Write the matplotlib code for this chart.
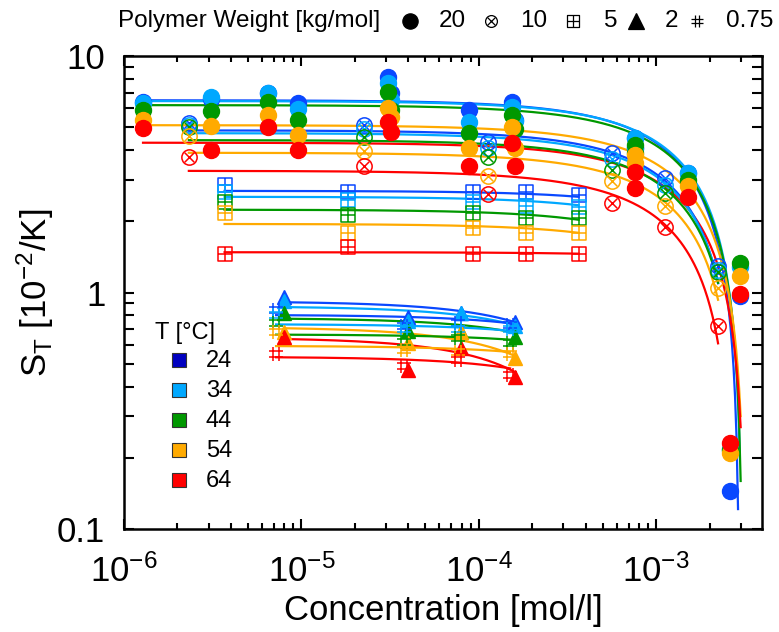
import numpy as np
import matplotlib
matplotlib.use("Agg")
import matplotlib.pyplot as plt
from matplotlib.path import Path
from matplotlib.ticker import LogLocator, FixedLocator, FuncFormatter, NullFormatter

plt.rcParams["font.family"] = ["Liberation Sans", "DejaVu Sans"]
plt.rcParams["mathtext.fontset"] = "custom"
plt.rcParams["mathtext.rm"] = "Liberation Sans"
plt.rcParams["mathtext.it"] = "Liberation Sans:italic"
plt.rcParams["mathtext.default"] = "regular"

temps = [24, 34, 44, 54, 64]
colors = ["#0a48ff", "#00a8ff", "#009800", "#ffaa00", "#ff0000"]
legend_colors = ["#0000c0", "#00a8ff", "#009800", "#ffaa00", "#ff0000"]

# 20 kg/mol, rows follow temps
conc_20 = [1.28e-6, 3.08e-6, 6.44e-6, 9.6e-6, 3.08e-5, 3.2e-5, 8.8e-5, 1.53e-4, 1.6e-4,
           7.6e-4, 7.6e-4, 1.51e-3, 2.96e-3, 2.6e-3]
st_20 = [
    [6.40, 6.60, 6.95, 6.35, 8.15, 6.97, 5.90, 6.40, 5.36, 4.50, 4.10, 3.20, 0.97, 0.145],
    [6.30, 6.70, 6.97, 5.97, 7.69, 6.50, 5.26, 6.10, 5.30, 4.50, 4.10, 3.19, 1.28, 0.218],
    [5.90, 5.85, 6.40, 5.36, 7.04, 5.90, 4.72, 5.62, 4.90, 4.20, 3.90, 2.98, 1.33, 0.215],
    [5.36, 5.06, 5.62, 4.63, 6.02, 5.51, 4.08, 5.00, 4.08, 3.80, 3.52, 2.81, 1.17, 0.210],
    [4.96, 4.00, 5.00, 3.99, 5.25, 4.76, 3.43, 4.28, 3.42, 3.22, 2.76, 2.53, 0.99, 0.231],
]
fit_s0_20 = [6.50, 6.45, 6.20, 5.10, 4.30]
fit_cmax_20 = [2.945e-3, 3.055e-3, 3.069e-3, 3.177e-3, 3.19e-3]
fit_end_20 = [2.89e-3, 2.96e-3, 2.99e-3, 2.99e-3, 2.99e-3]

# 10 kg/mol
conc_10 = [2.32e-6, 2.26e-5, 1.12e-4, 5.66e-4, 1.12e-3, 2.23e-3]
st_10 = [
    [5.20, 5.10, 4.32, 3.88, 3.04, 1.30],
    [5.10, 4.90, 4.08, 3.67, 2.85, 1.25],
    [5.00, 4.54, 3.73, 3.29, 2.63, 1.22],
    [4.60, 3.95, 3.10, 2.96, 2.32, 1.04],
    [3.73, 3.42, 2.60, 2.38, 1.89, 0.72],
]
fit_s0_10 = [4.85, 4.72, 4.41, 3.90, 3.27]
fit_cmax_10 = [2.88e-3, 2.91e-3, 2.97e-3, 2.93e-3, 2.741e-3]

# 5 kg/mol
conc_5 = [3.69e-6, 1.84e-5, 9.25e-5, 1.84e-4, 3.65e-4]
st_5 = [
    [2.84, 2.65, 2.65, 2.65, 2.58],
    [2.65, 2.45, 2.41, 2.33, 2.29],
    [2.41, 2.12, 2.16, 2.06, 2.06],
    [2.16, 1.79, 1.87, 1.78, 1.79],
    [1.45, 1.55, 1.46, 1.46, 1.46],
]
fit_s0_5 = [2.69, 2.54, 2.24, 1.95, 1.48]
fit_cmax_5 = [6.5e-3, 4.6e-3, 3.9e-3, 4.4e-3, 2.6e-2]

# 2 kg/mol
conc_2 = [8.0e-6, 4.0e-5, 7.9e-5, 1.6e-4]
st_2 = [
    [0.96, 0.79, 0.82, 0.75],
    [0.92, 0.76, 0.82, 0.72],
    [0.82, 0.69, 0.68, 0.65],
    [0.68, 0.61, 0.68, 0.53],
    [0.65, 0.47, 0.58, 0.44],
]
fit_s0_2 = [0.918, 0.875, 0.78, 0.715, 0.645]
fit_cmax_2 = [8.7e-4, 9.5e-4, 1.2e-3, 6.5e-4, 5.6e-4]

# 0.75 kg/mol
conc_075 = [7.2e-6, 3.8e-5, 7.6e-5, 1.5e-4]
st_075 = [
    [0.84, 0.72, 0.74, 0.73],
    [0.80, 0.70, 0.70, 0.70],
    [0.74, 0.62, 0.64, 0.61],
    [0.68, 0.57, 0.56, 0.55],
    [0.55, 0.49, 0.52, 0.45],
]
fit_s0_075 = [0.805, 0.735, 0.665, 0.595, 0.535]
fit_cmax_075 = [1.9e-3, 2.4e-3, 3.0e-3, 2.6e-3, 1.4e-3]

# marker shapes
M, L, C = Path.MOVETO, Path.LINETO, Path.CLOSEPOLY
circle_x = Path.make_compound_path(
    Path.unit_circle(),
    Path([(-0.62, -0.62), (0.62, 0.62), (-0.62, 0.62), (0.62, -0.62)], [M, L, M, L]))
box_plus = Path([(-1, -1), (1, -1), (1, 1), (-1, 1), (-1, -1), (0, -1), (0, 1), (-1, 0), (1, 0)],
                [M, L, L, L, C, M, L, M, L])
hash_mark = Path([(-0.38, -1), (-0.38, 1), (0.38, -1), (0.38, 1),
                  (-1, -0.38), (1, -0.38), (-1, 0.38), (1, 0.38)], [M, L] * 4)

W, H = 779, 632
fig = plt.figure(figsize=(W / 100, H / 100), dpi=100)
ax = fig.add_axes([124 / W, 1 - 529 / H, (762 - 124) / W, (529 - 56) / H])


def fit_curve(s0, cmax, c0, c1):
    c = np.logspace(np.log10(c0), np.log10(c1), 400)
    return c, s0 * (1 - c / cmax)


def draw_set(conc, st, s0s, cmaxs, ends, marker, ms, filled, mew=1.1):
    for i, col in enumerate(colors):
        end = ends[i] if np.ndim(ends) else ends
        cx, cy = fit_curve(s0s[i], cmaxs[i], min(conc), end)
        ax.plot(cx, cy, color=col, lw=1.6, zorder=2)
    for i, col in enumerate(colors):
        if filled:
            ax.plot(conc, st[i], ls="none", marker=marker, ms=ms, mfc=col, mec=col, zorder=3)
        else:
            ax.plot(conc, st[i], ls="none", marker=marker, ms=ms, mfc="none", mec=col,
                    mew=mew, zorder=3)


draw_set(conc_20, st_20, fit_s0_20, fit_cmax_20, fit_end_20, "o", 11.5, True)
draw_set(conc_10, st_10, fit_s0_10, fit_cmax_10, max(conc_10), circle_x, 11, False)
draw_set(conc_5, st_5, fit_s0_5, fit_cmax_5, max(conc_5), box_plus, 9.5, False)
draw_set(conc_2, st_2, fit_s0_2, fit_cmax_2, max(conc_2), "^", 10, True)
draw_set(conc_075, st_075, fit_s0_075, fit_cmax_075, max(conc_075), hash_mark, 10, False)

ax.set_xscale("log")
ax.set_yscale("log")
ax.set_xlim(1e-6, 10 ** -2.404)
ax.set_ylim(0.1, 10)

ax.xaxis.set_major_locator(LogLocator(base=10, numticks=10))
ax.xaxis.set_minor_locator(LogLocator(base=10, subs=np.arange(2, 10), numticks=20))
ax.xaxis.set_minor_formatter(NullFormatter())
ax.xaxis.set_major_formatter(FuncFormatter(lambda v, p: r"$10^{%d}$" % round(np.log10(v))))
ax.yaxis.set_major_locator(FixedLocator([0.1, 1, 10]))
ax.yaxis.set_minor_locator(LogLocator(base=10, subs=np.arange(2, 10), numticks=20))
ax.yaxis.set_minor_formatter(NullFormatter())
ax.yaxis.set_major_formatter(FuncFormatter(lambda v, p: "%g" % v))

ax.tick_params(which="both", direction="in", top=True, right=True, width=1.5, labelsize=25)
ax.tick_params(axis="x", which="major", length=7.5, pad=18)
ax.tick_params(axis="x", which="minor", length=4)
ax.tick_params(axis="y", which="both", length=7.5)
ax.tick_params(axis="y", which="major", pad=13.5)
for sp in ax.spines.values():
    sp.set_linewidth(1.8)

ax.set_xlabel("Concentration [mol/l]", fontsize=25, labelpad=4)
ax.set_ylabel(r"S$_T$ [10$^{-2}$/K]", fontsize=25, labelpad=1)

# legends drawn in pixel coordinates on an overlay
lg = fig.add_axes([0, 0, 1, 1], facecolor="none")
lg.set_xlim(0, W)
lg.set_ylim(H, 0)
lg.set_axis_off()

lg.text(118, 21, "Polymer Weight [kg/mol]", fontsize=17.5, va="center", ha="left")
mw_labels = ["20", "10", "5", "2", "0.75"]
mw_markers = [("o", 11, True), (circle_x, 8.5, False), (box_plus, 8, False), ("^", 11, True),
              (hash_mark, 8, False)]
mw_x = [410, 491, 573, 636, 697]
for x, lab, (mk, ms, filled) in zip(mw_x, mw_labels, mw_markers):
    lg.plot([x], [21], ls="none", marker=mk, ms=ms, mfc="k" if filled else "none", mec="k",
            mew=0.9, clip_on=False)
    lg.text(x + 29 if lab != "5" else x + 31, 21, lab, fontsize=17.5, va="center", ha="left")

lg.text(155, 333, "T [°C]", fontsize=17, va="center", ha="left")
for k, (t, col) in enumerate(zip(temps, legend_colors)):
    y = 360 + k * 29.9
    lg.plot([179], [y], ls="none", marker="s", ms=10.5, mfc=col, mec="#333333", mew=0.8)
    lg.text(206, y + 1, str(t), fontsize=17, va="center", ha="left")

fig.savefig("out.png", dpi=100)
